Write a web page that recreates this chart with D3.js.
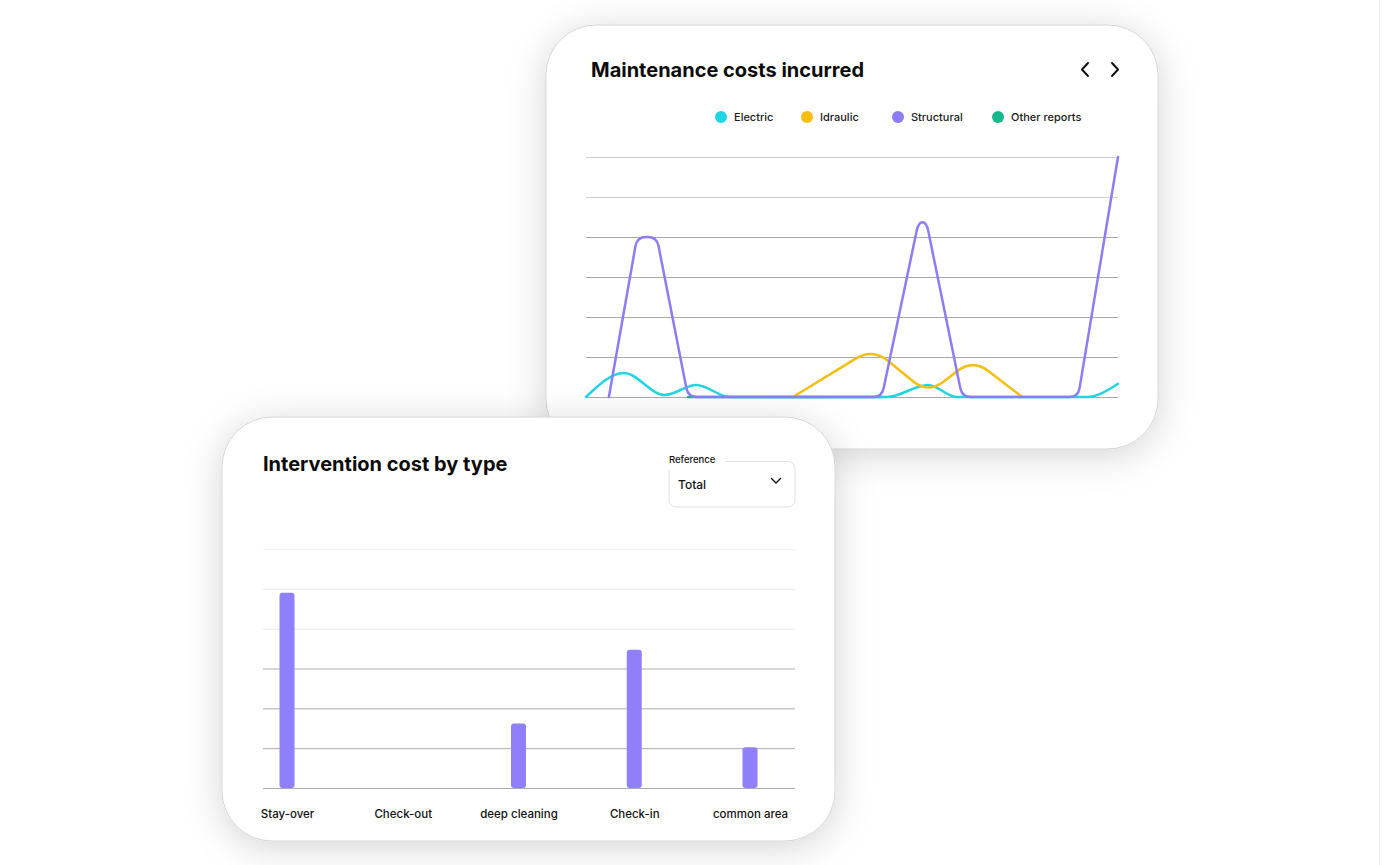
<!DOCTYPE html>
<html>
<head>
<meta charset="utf-8">
<script src="https://cdn.jsdelivr.net/npm/d3@7"></script>
<style>
  html, body { margin: 0; padding: 0; background: #fff; }
  svg { display: block; font-family: Inter, "Noto Sans", sans-serif; }
</style>
</head>
<body>
<svg id="chart" width="1384" height="865"></svg>
<script>
// line chart series, x = position in period (0-100), y = cost
var electric   = [[0, 0], [7.1, 60], [14.8, 5], [20.7, 30], [27.1, 0], [56.6, 0], [64.3, 30], [69.7, 0], [94.2, 0], [100, 33]];
var idraulic   = [[38.9, 0], [53.9, 122], [64.3, 8], [72.7, 95], [82, 0]];
var structural = [[4.3, 0], [9.6, 400], [13.3, 400], [19.2, 0], [55.6, 0], [62.5, 437], [64, 437], [70.7, 0], [92.5, 0], [100, 600]];
var otherReports = [[19.2, 0], [55.6, 0]];

var seriesNames = ['Electric', 'Idraulic', 'Structural', 'Other reports'];
var seriesColors = ['#1fd5e3', '#f6bd12', '#8c7df2', '#14b88a'];

// bar chart
var categories = ['Stay-over', 'Check-out', 'deep cleaning', 'Check-in', 'common area'];
var costs = [490, 0, 162, 347, 102];

var yTicks = [0, 100, 200, 300, 400, 500, 600];

// straight segments with rounded corners (r = corner radius in px)
function roundedCurve(r) {
  return function(context) {
    var pts = [];
    return {
      areaStart: function() {},
      areaEnd: function() {},
      lineStart: function() { pts = []; },
      point: function(px, py) { pts.push([+px, +py]); },
      lineEnd: function() {
        if (!pts.length) return;
        context.moveTo(pts[0][0], pts[0][1]);
        for (var i = 1; i < pts.length - 1; i++) {
          var p = pts[i], a = pts[i - 1], b = pts[i + 1];
          var la = Math.hypot(p[0] - a[0], p[1] - a[1]);
          var lb = Math.hypot(b[0] - p[0], b[1] - p[1]);
          var ra = Math.min(r, la / 2), rb = Math.min(r, lb / 2);
          context.lineTo(p[0] - (p[0] - a[0]) * ra / la, p[1] - (p[1] - a[1]) * ra / la);
          context.quadraticCurveTo(p[0], p[1], p[0] + (b[0] - p[0]) * rb / lb, p[1] + (b[1] - p[1]) * rb / lb);
        }
        var last = pts[pts.length - 1];
        context.lineTo(last[0], last[1]);
      }
    };
  };
}

var svg = d3.select('#chart');

var defs = svg.append('defs');
var f = defs.append('filter').attr('id', 'shadow')
  .attr('x', '-20%').attr('y', '-20%').attr('width', '140%').attr('height', '140%');
f.append('feDropShadow').attr('dx', 0).attr('dy', 6).attr('stdDeviation', 18)
  .attr('flood-color', '#000').attr('flood-opacity', 0.17);

// page edge on the right
svg.append('line').attr('x1', 1379.5).attr('x2', 1379.5).attr('y1', 0).attr('y2', 865)
  .attr('stroke', '#ebebeb');

// ---------- top card: maintenance costs ----------
var topCard = svg.append('g');
topCard.append('rect').attr('x', 546).attr('y', 25).attr('width', 612).attr('height', 424)
  .attr('rx', 50).attr('fill', '#fff').attr('stroke', '#d4d4d4').attr('filter', 'url(#shadow)');

topCard.append('text').attr('x', 591).attr('y', 77).text('Maintenance costs incurred')
  .attr('font-size', 20).attr('font-weight', 700).attr('fill', '#0b0b0b');

// arrows
topCard.append('path').attr('d', 'M1088,63 L1082,69.5 L1088,76')
  .attr('fill', 'none').attr('stroke', '#111').attr('stroke-width', 2).attr('stroke-linecap', 'round').attr('stroke-linejoin', 'round');
topCard.append('path').attr('d', 'M1112,63 L1118,69.5 L1112,76')
  .attr('fill', 'none').attr('stroke', '#111').attr('stroke-width', 2).attr('stroke-linecap', 'round').attr('stroke-linejoin', 'round');

// legend
var legendX = [721, 807, 898, 998];
var legend = topCard.selectAll('.lg').data(seriesNames).join('g').attr('class', 'lg')
  .attr('transform', function(d, i) { return 'translate(' + legendX[i] + ',117)'; });
legend.append('circle').attr('r', 6).attr('fill', function(d, i) { return seriesColors[i]; });
legend.append('text').attr('x', 13).attr('y', 4).text(function(d) { return d; })
  .attr('font-size', 11).attr('font-weight', 500).attr('fill', '#1a1a1a');

var x = d3.scaleLinear().domain([0, 100]).range([586, 1118]);
var y = d3.scaleLinear().domain([0, 600]).range([397, 157]);

var gridTop = topCard.append('g').attr('transform', 'translate(586,0)')
  .call(d3.axisLeft(y).tickValues(yTicks).tickSize(-532).tickFormat(''));
gridTop.select('.domain').remove();
gridTop.selectAll('.tick line').attr('stroke', function(d) { return d >= 500 ? '#cfcfcf' : '#a9a9a9'; });

function lineWith(curve) {
  return d3.line().x(function(d) { return x(d[0]); }).y(function(d) { return y(d[1]); }).curve(curve);
}
var smoothLine = lineWith(d3.curveMonotoneX);
var sharpLine = lineWith(roundedCurve(9));
var softLine = lineWith(roundedCurve(20));

var allSeries = [otherReports, electric, idraulic, structural];
var allColors = [seriesColors[3], seriesColors[0], seriesColors[1], seriesColors[2]];
var allGens = [sharpLine, smoothLine, softLine, sharpLine];
topCard.selectAll('.series').data(allSeries).join('path').attr('class', 'series')
  .attr('d', function(d, i) { return allGens[i](d); }).attr('fill', 'none')
  .attr('stroke', function(d, i) { return allColors[i]; })
  .attr('stroke-width', 2.5).attr('stroke-linecap', 'round').attr('stroke-linejoin', 'round');

// ---------- bottom card: intervention cost by type ----------
var botCard = svg.append('g');
botCard.append('rect').attr('x', 222).attr('y', 417).attr('width', 613).attr('height', 424)
  .attr('rx', 50).attr('fill', '#fff').attr('stroke', '#d4d4d4').attr('filter', 'url(#shadow)');

botCard.append('text').attr('x', 263).attr('y', 471).text('Intervention cost by type')
  .attr('font-size', 20).attr('font-weight', 700).attr('fill', '#0b0b0b');

// reference select box
botCard.append('path').attr('d', 'M725,461.5 L787,461.5 Q795,461.5 795,469.5 L795,499 Q795,507 787,507 L677,507 Q669,507 669,499 L669,470')
  .attr('fill', 'none').attr('stroke', '#e2e2e2');
botCard.append('text').attr('x', 669).attr('y', 463).text('Reference')
  .attr('font-size', 9.5).attr('font-weight', 500).attr('fill', '#111');
botCard.append('text').attr('x', 678).attr('y', 489).text('Total')
  .attr('font-size', 12).attr('font-weight', 500).attr('fill', '#111');
botCard.append('path').attr('d', 'M771.5,478.5 L776,483 L780.5,478.5')
  .attr('fill', 'none').attr('stroke', '#111').attr('stroke-width', 1.4).attr('stroke-linecap', 'round');

var xb = d3.scalePoint().domain(categories).range([287, 750]);
var yb = d3.scaleLinear().domain([0, 600]).range([788, 549]);

var gridBot = botCard.append('g').attr('transform', 'translate(263,0)')
  .call(d3.axisLeft(yb).tickValues(yTicks).tickSize(-532).tickFormat(''));
gridBot.select('.domain').remove();
gridBot.selectAll('.tick line').attr('stroke', function(d) {
  return d === 600 ? '#f1f1f1' : d >= 400 ? '#e8e8e8' : '#ababab';
});

var barW = 15;
botCard.selectAll('.bar').data(costs).join('rect').attr('class', 'bar')
  .attr('x', function(d, i) { return xb(categories[i]) - barW / 2; })
  .attr('y', function(d) { return yb(d); })
  .attr('width', barW)
  .attr('height', function(d) { return yb(0) - yb(d); })
  .attr('rx', function(d) { return d > 0 ? 3 : 0; })
  .attr('fill', '#8f7ffa');

var xAxis = botCard.append('g').attr('transform', 'translate(0,788)')
  .call(d3.axisBottom(xb).tickSize(0).tickPadding(22));
xAxis.select('.domain').remove();
xAxis.selectAll('text').attr('font-size', 11.5).attr('font-weight', 500).attr('fill', '#111')
  .attr('font-family', 'Inter, "Noto Sans", sans-serif');
</script>
</body>
</html>
